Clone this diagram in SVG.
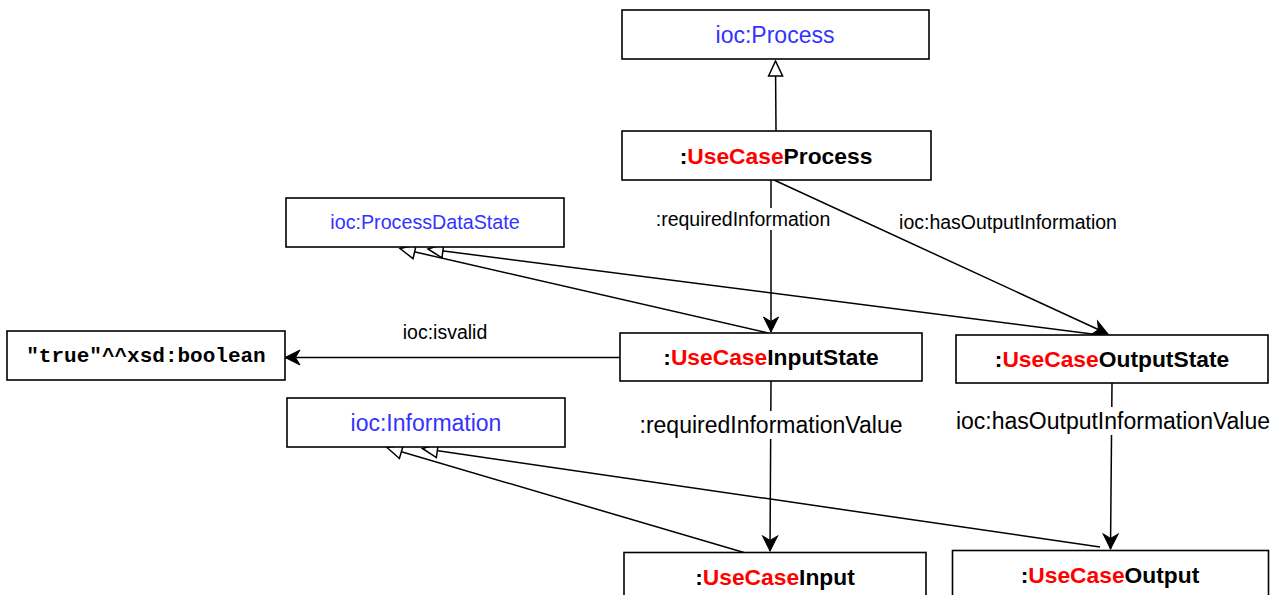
<svg xmlns="http://www.w3.org/2000/svg" width="1277" height="595" viewBox="0 0 1277 595">
  <style>
    .box { fill: #ffffff; stroke: #000000; stroke-width: 1.6; }
    .cls { font-family: "Liberation Sans", Arial, sans-serif; fill: #3333ff; text-anchor: middle; }
    .inst { font-family: "Liberation Sans", Arial, sans-serif; font-weight: bold; font-size: 22.8px; fill: #000000; text-anchor: middle; }
    .red { fill: #ff0000; }
    .lit { font-family: "Liberation Mono", "Courier New", monospace; font-weight: bold; font-size: 21px; fill: #000000; text-anchor: middle; }
    .edge { fill: none; stroke: #000000; stroke-width: 1.5; }
    .lbl { font-family: "Liberation Sans", Arial, sans-serif; fill: #000000; text-anchor: middle; }
    .bg { fill: #ffffff; stroke: none; }
  </style>
  <defs>
    <!-- filled arrow with notched back, used for object properties -->
    <marker id="arrow" markerUnits="userSpaceOnUse" viewBox="-16 -9 18 18" refX="0" refY="0" markerWidth="18" markerHeight="18" orient="auto">
      <path d="M0,0 L-15,-7.5 L-10.5,0 L-15,7.5 Z" fill="#000000" stroke="#000000" stroke-width="1"/>
    </marker>
    <!-- hollow triangle, used for rdf:type / subclass links -->
    <marker id="hollow" markerUnits="userSpaceOnUse" viewBox="-17 -9 19 18" refX="0" refY="0" markerWidth="19" markerHeight="18" orient="auto">
      <path d="M0,0 L-15,-7 L-15,7 Z" fill="#ffffff" stroke="#000000" stroke-width="1.5"/>
    </marker>
  </defs>

  <!-- connectors -->
  <g id="connectors">
    <line class="edge" x1="776" y1="131" x2="775.5" y2="61" marker-end="url(#hollow)"/>
    <line class="edge" x1="771" y1="180" x2="771" y2="332" marker-end="url(#arrow)"/>
    <line class="edge" x1="774" y1="180" x2="1108" y2="334" marker-end="url(#arrow)"/>
    <line class="edge" x1="768" y1="333" x2="400" y2="248.5" marker-end="url(#hollow)"/>
    <line class="edge" x1="1100" y1="335" x2="428" y2="249" marker-end="url(#hollow)"/>
    <line class="edge" x1="620" y1="357.5" x2="285" y2="357.5" marker-end="url(#arrow)"/>
    <line class="edge" x1="771" y1="381" x2="770" y2="551" marker-end="url(#arrow)"/>
    <line class="edge" x1="1112" y1="383" x2="1110.5" y2="549" marker-end="url(#arrow)"/>
    <line class="edge" x1="744" y1="552.5" x2="387" y2="447.5" marker-end="url(#hollow)"/>
    <line class="edge" x1="1100" y1="547" x2="422.5" y2="448.5" marker-end="url(#hollow)"/>

    <rect class="bg" x="654" y="208" width="178" height="22"/>
    <text class="lbl" x="743" y="225.5" font-size="19.5px">:requiredInformation</text>
    <text class="lbl" x="1008" y="228.5" font-size="19.5px">ioc:hasOutputInformation</text>
    <text class="lbl" x="445" y="338.5" font-size="19.5px">ioc:isvalid</text>
    <rect class="bg" x="638" y="411" width="266" height="28"/>
    <text class="lbl" x="771" y="432.5" font-size="23px">:requiredInformationValue</text>
    <rect class="bg" x="955" y="407" width="317" height="28"/>
    <text class="lbl" x="1113" y="428.5" font-size="23px">ioc:hasOutputInformationValue</text>
  </g>

  <g id="ioc-process">
    <rect class="box" x="622" y="10" width="307" height="49"/>
    <text class="cls" x="775" y="43" font-size="23px">ioc:Process</text>
  </g>

  <g id="usecase-process">
    <rect class="box" x="622" y="131" width="309" height="49"/>
    <text class="inst" x="776" y="163.5">:<tspan class="red">UseCase</tspan>Process</text>
  </g>

  <g id="ioc-processdatastate">
    <rect class="box" x="286" y="198" width="278" height="49"/>
    <text class="cls" x="425" y="229" font-size="19.7px">ioc:ProcessDataState</text>
  </g>

  <g id="literal-boolean">
    <rect class="box" x="7" y="331" width="278" height="49"/>
    <text class="lit" x="146" y="362">"true"^^xsd:boolean</text>
  </g>

  <g id="usecase-inputstate">
    <rect class="box" x="620" y="333" width="302" height="48"/>
    <text class="inst" x="771" y="365">:<tspan class="red">UseCase</tspan>InputState</text>
  </g>

  <g id="usecase-outputstate">
    <rect class="box" x="956" y="335" width="312" height="48"/>
    <text class="inst" x="1112" y="367">:<tspan class="red">UseCase</tspan>OutputState</text>
  </g>

  <g id="ioc-information">
    <rect class="box" x="287" y="398" width="278" height="49"/>
    <text class="cls" x="426" y="430.5" font-size="23px">ioc:Information</text>
  </g>

  <g id="usecase-input">
    <rect class="box" x="624" y="552.5" width="302" height="50"/>
    <text class="inst" x="775" y="585">:<tspan class="red">UseCase</tspan>Input</text>
  </g>

  <g id="usecase-output">
    <rect class="box" x="952.5" y="550.5" width="316" height="50"/>
    <text class="inst" x="1110" y="583">:<tspan class="red">UseCase</tspan>Output</text>
  </g>
</svg>
